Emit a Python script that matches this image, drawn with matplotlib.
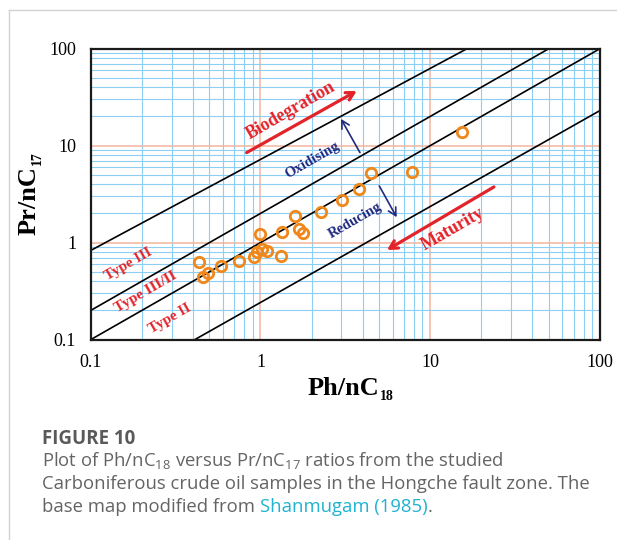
import numpy as np
import matplotlib
matplotlib.use("Agg")
import matplotlib.pyplot as plt
from matplotlib.ticker import FixedLocator, FixedFormatter, LogLocator, NullFormatter
from matplotlib.lines import Line2D

# sample ratios
ph_nc18 = [0.436, 0.457, 0.493, 0.585, 0.747, 0.916, 0.950, 1.016, 1.097, 0.997,
           1.333, 1.315, 1.597, 1.686, 1.772, 2.27, 3.03, 3.82, 4.475, 7.83, 15.43]
pr_nc17 = [0.637, 0.446, 0.484, 0.575, 0.652, 0.717, 0.808, 0.855, 0.827, 1.238,
           1.298, 0.729, 1.898, 1.384, 1.25, 2.058, 2.755, 3.578, 5.27, 5.40, 13.94]

# kerogen type boundaries (end points, x then y)
bound_x = [[0.1, 16.5], [0.1, 50], [0.1, 100], [0.41, 100]]
bound_y = [[0.83, 100], [0.2, 100], [0.1, 100], [0.1, 23]]

ticks = [0.1, 1, 10, 100]
tick_labels = ["0.1", "1", "10", "100"]

RED = "#e3232a"
NAVY = "#1f2a80"
SERIF = "Liberation Serif"
W, H = 617, 540

fig = plt.figure(figsize=(6.17, 5.4), dpi=100)
ax = fig.add_axes([0.147, 0.371, 0.8255, 0.539])

ax.set_xscale("log")
ax.set_yscale("log")
ax.set_xlim(0.1, 100)
ax.set_ylim(0.1, 100)

for axis in (ax.xaxis, ax.yaxis):
    axis.set_major_locator(FixedLocator(ticks))
    axis.set_major_formatter(FixedFormatter(tick_labels))
    axis.set_minor_locator(LogLocator(base=10, subs=np.arange(2, 10)))
    axis.set_minor_formatter(NullFormatter())

ax.grid(which="minor", color="#8dcff2", lw=0.8, zorder=0)
ax.grid(which="major", color="#f3b59c", lw=1.1, zorder=0.5)
ax.set_axisbelow(True)
ax.tick_params(which="both", length=0)
ax.tick_params(axis="y", pad=10.5, labelsize=13)
ax.tick_params(axis="x", pad=10, labelsize=13)
for lab in ax.get_xticklabels() + ax.get_yticklabels():
    lab.set_fontfamily(SERIF)
for s in ax.spines.values():
    s.set_linewidth(1.6)
    s.set_color("#1a1a1a")

for bx, by in zip(bound_x, bound_y):
    ax.plot(bx, by, color="black", lw=1.2, zorder=2)

ax.plot(ph_nc18, pr_nc17, "o", mfc="none", mec="#f0871a", ms=7.5, mew=2, zorder=3)

# trend arrows
def arrow(x0, y0, x1, y1, color, lw):
    ax.annotate("", xy=(x1, y1), xytext=(x0, y0),
                arrowprops=dict(arrowstyle="->,head_length=0.55,head_width=0.3",
                                color=color, lw=lw, shrinkA=0, shrinkB=0), zorder=4)

arrow(0.829, 8.47, 3.69, 36.6, RED, 2.3)
arrow(23.7, 3.75, 5.56, 0.84, RED, 2.3)
arrow(3.855, 8.47, 2.98, 18.85, NAVY, 1.2)
arrow(5.01, 3.84, 6.34, 1.83, NAVY, 1.2)

def label(x, y, s, color, size):
    ax.text(x, y, s, color=color, fontsize=size, fontweight="bold", family=SERIF,
            rotation=30, rotation_mode="anchor", ha="center", va="center", zorder=5)

label(1.512, 22.8, "Biodegration", RED, 13)
label(13.6, 1.38, "Maturity", RED, 13)
label(2.01, 7.12, "Oxidising", NAVY, 10.5)
label(3.60, 1.71, "Reducing", NAVY, 10.5)
label(0.166, 0.603, "Type III", RED, 10.8)
label(0.2117, 0.310, "Type III/II", RED, 11)
label(0.293, 0.163, "Type II", RED, 10.8)

# axis titles with small subscripts
xl = fig.text(343 / W, 1 - 395 / H, "Ph/nC", fontsize=19, fontweight="bold",
              family=SERIF, ha="center", va="baseline")
ax.annotate("18", xy=(1, 0), xycoords=xl, xytext=(1, 0), textcoords="offset points",
            fontsize=10, fontweight="bold", family=SERIF, ha="left", va="baseline")
yl = fig.text(35.5 / W, 1 - 201 / H, "Pr/nC", fontsize=19, fontweight="bold",
              family=SERIF, rotation=90, rotation_mode="anchor", ha="center", va="baseline")
ax.annotate("17", xy=(1, 1), xycoords=yl, xytext=(0, 1), textcoords="offset points",
            fontsize=10, fontweight="bold", family=SERIF, rotation=90,
            rotation_mode="anchor", ha="left", va="baseline")

# panel border
fig.add_artist(Line2D([9 / W, 1], [1 - 10 / H] * 2, color="#d2d2d2", lw=1))
fig.add_artist(Line2D([9 / W] * 2, [0, 1 - 10 / H], color="#d2d2d2", lw=1))

# caption
plt.rcParams["mathtext.fontset"] = "custom"
plt.rcParams["mathtext.rm"] = "Open Sans"
plt.rcParams["mathtext.it"] = "Open Sans:italic"
GREY = "#646464"
CAP = 13.3
cx = 42 / W
fig.text(cx, 1 - 443.5 / H, "FIGURE 10", fontsize=13.5, fontweight="bold",
         family="Open Sans", color="#5a5a5a", va="baseline")
cap = [r"Plot of Ph/nC$_{18}$ versus Pr/nC$_{17}$ ratios from the studied",
       "Carboniferous crude oil samples in the Hongche fault zone. The"]
for i, line in enumerate(cap):
    fig.text(cx, 1 - (466 + 23.3 * i) / H, line, fontsize=CAP, family="Open Sans",
             color=GREY, va="baseline", math_fontfamily="custom")
t1 = fig.text(cx, 1 - 512.5 / H, "base map modified from ", fontsize=CAP,
              family="Open Sans", color=GREY, va="baseline")
t2 = fig.text(0, 0, "Shanmugam (1985)", fontsize=CAP, family="Open Sans",
              color="#1fb3cf", va="baseline")
t3 = fig.text(0, 0, ".", fontsize=CAP, family="Open Sans", color=GREY, va="baseline")

fig.canvas.draw()
r = fig.canvas.get_renderer()
fw = fig.bbox.width
x_end = t1.get_window_extent(r).x1
t2.set_position((x_end / fw, 1 - 512.5 / H))
x_end = t2.get_window_extent(r).x1
t3.set_position((x_end / fw, 1 - 512.5 / H))

fig.savefig("out.png", dpi=100)
